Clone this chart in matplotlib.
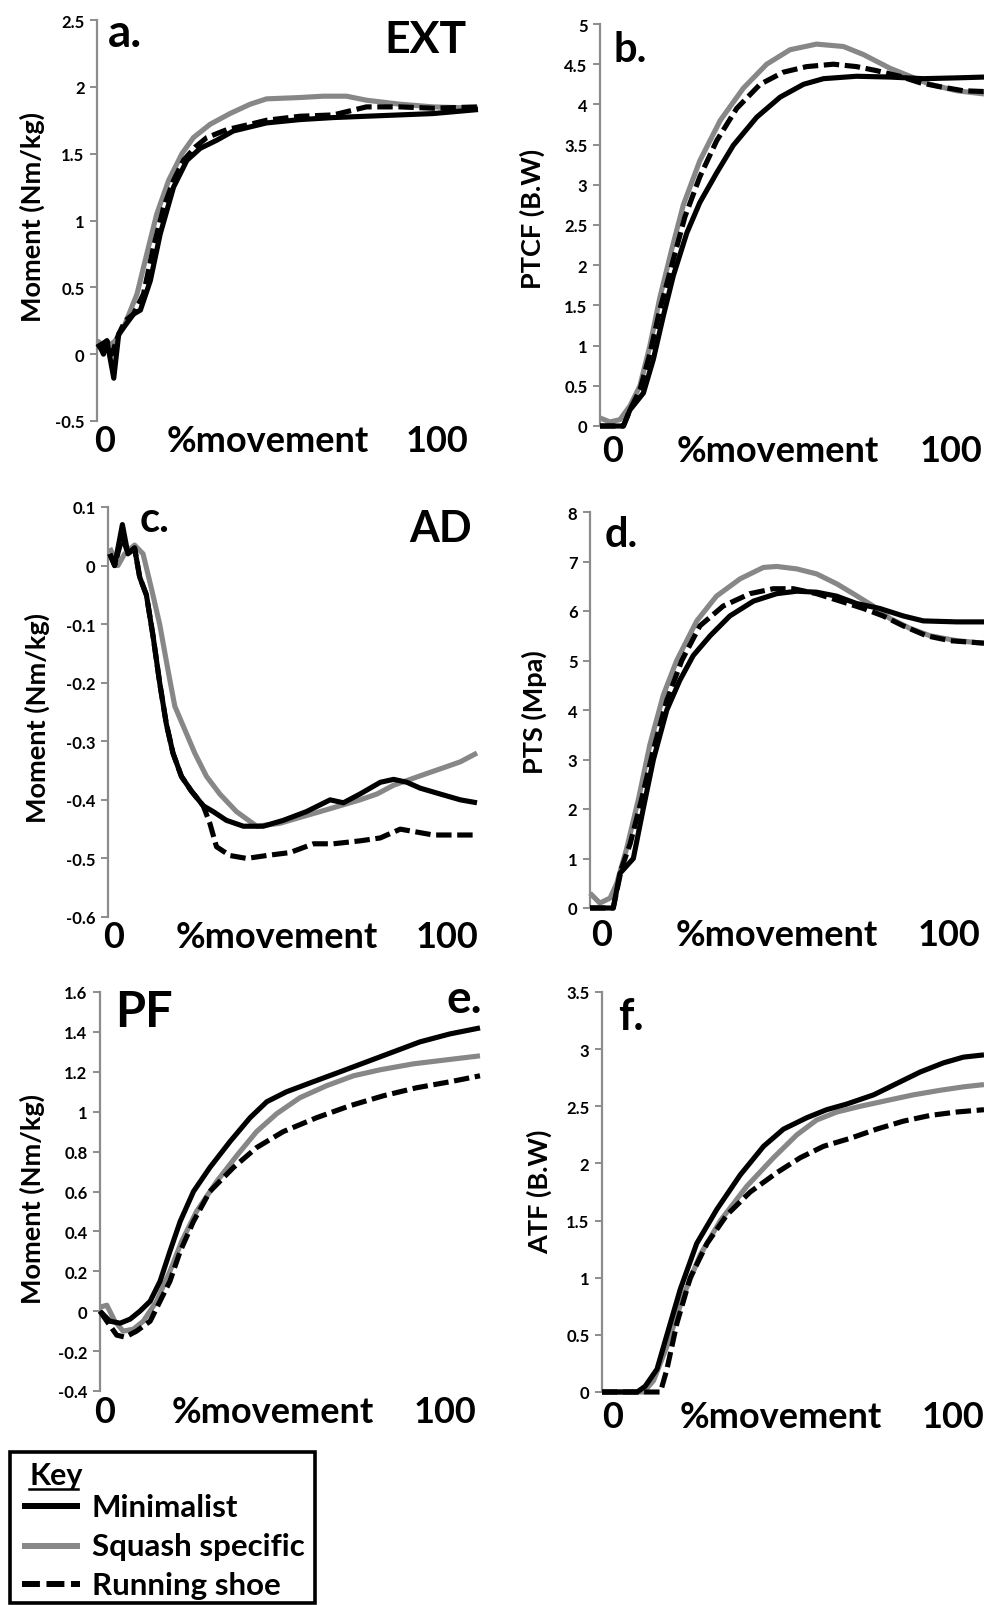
import numpy as np
import matplotlib
matplotlib.use('Agg')
import matplotlib.pyplot as plt
from matplotlib.lines import Line2D
from matplotlib.patches import Rectangle

W, H = 984, 1606
plt.rcParams['font.family'] = ['Lato', 'DejaVu Sans']
plt.rcParams['font.weight'] = 'bold'

series_names = ['Minimalist', 'Squash specific', 'Running shoe']

# ---------------- Panel a (EXT moment) ----------------
a_min_x = [0.4, 1.7, 2.6, 4.4, 5.7, 7.0, 9.6, 11.4, 14.0, 16.6, 20.1, 23.6, 27.1, 31.4, 35.8, 44.5, 53.3, 62.0, 70.7, 79.5, 88.2, 100]
a_min_y = [0.08, 0.0, 0.1, -0.18, 0.15, 0.2, 0.3, 0.33, 0.55, 0.9, 1.25, 1.45, 1.54, 1.6, 1.67, 1.73, 1.755, 1.77, 1.78, 1.79, 1.8, 1.83]
a_sq_x = [0, 2.6, 4.8, 7.0, 10.5, 13.5, 15.7, 18.8, 22.3, 25.3, 29.7, 34.9, 40.2, 44.5, 53.3, 59.4, 65.5, 70.7, 79.5, 88.2, 100]
a_sq_y = [0.1, 0.05, 0.1, 0.2, 0.45, 0.8, 1.05, 1.3, 1.5, 1.62, 1.72, 1.8, 1.87, 1.91, 1.92, 1.93, 1.93, 1.9, 1.87, 1.85, 1.84]
a_run_x = [0, 2.6, 3.9, 5.7, 7.4, 9.6, 12.2, 14.8, 17.5, 20.1, 22.7, 25.8, 28.8, 34.1, 40.2, 44.5, 53.3, 62.0, 66.4, 70.7, 79.5, 88.2, 100]
a_run_y = [0.05, 0.1, 0.0, 0.15, 0.25, 0.3, 0.45, 0.8, 1.1, 1.3, 1.45, 1.55, 1.62, 1.68, 1.72, 1.75, 1.78, 1.79, 1.82, 1.85, 1.85, 1.84, 1.85]
a_ticks = [-0.5, 0, 0.5, 1, 1.5, 2, 2.5]
a_ticklabels = ['-0.5', '0', '0.5', '1', '1.5', '2', '2.5']

# ---------------- Panel b (PTCF) ----------------
b_min_x = [0, 6.1, 7.8, 11.3, 13.9, 16.5, 19.1, 22.6, 26.0, 30.4, 34.7, 40.8, 46.9, 53.0, 58.2, 66.8, 75.5, 84.2, 92.9, 100]
b_min_y = [0, 0, 0.2, 0.41, 0.83, 1.37, 1.87, 2.4, 2.78, 3.15, 3.49, 3.84, 4.09, 4.25, 4.32, 4.35, 4.34, 4.32, 4.33, 4.34]
b_sq_x = [0, 2.6, 5.2, 7.8, 10.4, 13.0, 15.6, 18.7, 21.7, 26.0, 31.3, 37.3, 43.4, 49.5, 56.4, 63.4, 68.6, 75.5, 80.7, 85.9, 92.9, 100]
b_sq_y = [0.1, 0.05, 0.08, 0.25, 0.5, 1.0, 1.6, 2.2, 2.75, 3.3, 3.8, 4.2, 4.5, 4.68, 4.75, 4.72, 4.62, 4.45, 4.35, 4.25, 4.17, 4.13]
b_run_x = [0, 6.1, 7.8, 10.4, 13.0, 15.6, 18.7, 22.1, 26.0, 30.4, 35.6, 41.7, 47.7, 53.8, 60.8, 66.8, 72.0, 78.1, 83.3, 88.5, 94.6, 100]
b_run_y = [0, 0, 0.2, 0.45, 0.9, 1.45, 2.0, 2.6, 3.1, 3.55, 3.95, 4.25, 4.4, 4.47, 4.5, 4.47, 4.42, 4.35, 4.27, 4.22, 4.17, 4.16]
b_ticks = [0, 0.5, 1, 1.5, 2, 2.5, 3, 3.5, 4, 4.5, 5]
b_ticklabels = ['0', '0.5', '1', '1.5', '2', '2.5', '3', '3.5', '4', '4.5', '5']

# ---------------- Panel c (AD moment) ----------------
c_min_x = [0.5, 1.8, 3.9, 5.4, 7.2, 8.6, 10.4, 12.2, 14.0, 15.8, 17.6, 19.9, 22.6, 25.8, 28.5, 32.1, 36.7, 42.1, 47.5, 53.8, 60.2, 63.8, 68.3, 73.8, 77.4, 81.0, 84.6, 90.0, 95.5, 100]
c_min_y = [0.02, 0.0, 0.07, 0.02, 0.03, -0.02, -0.05, -0.12, -0.2, -0.27, -0.32, -0.36, -0.385, -0.41, -0.42, -0.435, -0.445, -0.445, -0.435, -0.42, -0.40, -0.405, -0.39, -0.37, -0.365, -0.37, -0.38, -0.39, -0.40, -0.405]
c_sq_x = [0.5, 2.7, 4.5, 7.2, 9.5, 11.8, 14.0, 16.3, 18.1, 20.8, 23.5, 26.7, 30.3, 34.8, 40.3, 46.6, 52.0, 57.5, 62.9, 68.3, 72.9, 77.4, 81.9, 86.4, 91.0, 95.5, 100]
c_sq_y = [0.03, 0.0, 0.02, 0.035, 0.02, -0.04, -0.1, -0.18, -0.24, -0.28, -0.32, -0.36, -0.39, -0.42, -0.445, -0.44, -0.43, -0.42, -0.41, -0.40, -0.39, -0.375, -0.365, -0.355, -0.345, -0.335, -0.32]
c_run_x = [0.5, 1.8, 3.9, 5.4, 7.2, 8.6, 10.4, 12.2, 14.0, 15.8, 17.6, 19.9, 22.6, 25.8, 27.6, 29.4, 33.0, 37.6, 43.0, 49.3, 55.7, 61.1, 68.3, 73.8, 79.2, 83.7, 88.2, 100]
c_run_y = [0.02, 0.0, 0.05, 0.02, 0.03, -0.02, -0.05, -0.12, -0.2, -0.27, -0.32, -0.36, -0.385, -0.41, -0.44, -0.48, -0.495, -0.5, -0.495, -0.49, -0.475, -0.475, -0.47, -0.465, -0.45, -0.455, -0.46, -0.46]
c_ticks = [-0.6, -0.5, -0.4, -0.3, -0.2, -0.1, 0, 0.1]
c_ticklabels = ['-0.6', '-0.5', '-0.4', '-0.3', '-0.2', '-0.1', '0', '0.1']

# ---------------- Panel d (PTS) ----------------
d_min_x = [0, 5.9, 7.6, 11.0, 13.5, 16.1, 19.5, 22.8, 26.2, 30.5, 35.5, 41.5, 47.4, 52.5, 57.5, 62.6, 67.7, 73.6, 79.5, 84.6, 93.1, 100]
d_min_y = [0, 0, 0.7, 1.0, 2.0, 3.0, 4.0, 4.6, 5.1, 5.5, 5.9, 6.2, 6.35, 6.4, 6.38, 6.3, 6.15, 6.05, 5.9, 5.8, 5.78, 5.78]
d_sq_x = [0, 2.5, 5.1, 6.8, 9.3, 12.3, 15.2, 18.6, 22.0, 27.1, 32.1, 38.1, 44.0, 47.4, 52.5, 57.5, 62.6, 66.8, 71.9, 76.1, 81.2, 86.3, 93.1, 100]
d_sq_y = [0.3, 0.1, 0.2, 0.5, 1.2, 2.2, 3.3, 4.3, 5.0, 5.8, 6.3, 6.65, 6.88, 6.9, 6.85, 6.75, 6.55, 6.35, 6.1, 5.85, 5.65, 5.5, 5.4, 5.35]
d_run_x = [0, 5.9, 8.0, 10.2, 13.1, 16.1, 19.5, 23.3, 27.9, 33.8, 40.6, 46.5, 51.6, 57.5, 63.5, 69.4, 74.4, 79.5, 85.4, 91.4, 100]
d_run_y = [0, 0, 0.8, 1.3, 2.2, 3.2, 4.2, 5.0, 5.7, 6.1, 6.35, 6.45, 6.45, 6.35, 6.2, 6.05, 5.9, 5.7, 5.5, 5.4, 5.35]
d_ticks = [0, 1, 2, 3, 4, 5, 6, 7, 8]
d_ticklabels = ['0', '1', '2', '3', '4', '5', '6', '7', '8']

# ---------------- Panel e (PF moment) ----------------
e_min_x = [0, 2.6, 5.3, 7.9, 10.5, 13.2, 15.8, 18.4, 21.1, 24.6, 28.9, 34.2, 39.5, 43.9, 49.1, 56.1, 63.2, 70.2, 77.2, 84.2, 92.1, 100]
e_min_y = [0, -0.05, -0.06, -0.04, 0.0, 0.05, 0.15, 0.3, 0.45, 0.6, 0.72, 0.85, 0.97, 1.05, 1.1, 1.15, 1.2, 1.25, 1.3, 1.35, 1.39, 1.42]
e_sq_x = [0, 1.8, 3.9, 6.1, 8.8, 11.4, 14.9, 18.4, 21.5, 25.4, 30.7, 36.0, 41.2, 46.5, 52.6, 59.6, 66.7, 73.7, 82.5, 91.2, 100]
e_sq_y = [0.02, 0.03, -0.05, -0.1, -0.09, -0.05, 0.05, 0.2, 0.35, 0.5, 0.65, 0.78, 0.9, 0.99, 1.07, 1.13, 1.18, 1.21, 1.24, 1.26, 1.28]
e_run_x = [0, 1.8, 4.4, 6.6, 9.6, 13.2, 15.8, 18.4, 21.1, 24.6, 28.9, 35.1, 41.2, 48.2, 57.0, 65.8, 74.6, 83.3, 92.1, 100]
e_run_y = [0, -0.05, -0.12, -0.13, -0.1, -0.05, 0.05, 0.15, 0.3, 0.45, 0.6, 0.72, 0.82, 0.9, 0.97, 1.03, 1.08, 1.12, 1.15, 1.18]
e_ticks = [-0.4, -0.2, 0, 0.2, 0.4, 0.6, 0.8, 1, 1.2, 1.4, 1.6]
e_ticklabels = ['-0.4', '-0.2', '0', '0.2', '0.4', '0.6', '0.8', '1', '1.2', '1.4', '1.6']

# ---------------- Panel f (ATF) ----------------
f_min_x = [0, 9.2, 11.3, 14.4, 17.0, 20.5, 24.8, 30.1, 36.2, 42.3, 47.5, 53.6, 58.8, 64.1, 71.1, 77.2, 83.3, 89.4, 94.6, 100]
f_min_y = [0, 0, 0.05, 0.2, 0.5, 0.9, 1.3, 1.6, 1.9, 2.15, 2.3, 2.4, 2.47, 2.52, 2.6, 2.7, 2.8, 2.88, 2.93, 2.95]
f_sq_x = [0, 10.9, 13.5, 17.0, 21.4, 25.7, 31.0, 37.9, 44.9, 51.0, 56.2, 61.5, 67.6, 74.5, 81.5, 88.5, 94.6, 100]
f_sq_y = [0, 0, 0.1, 0.4, 0.85, 1.2, 1.5, 1.8, 2.05, 2.25, 2.38, 2.45, 2.5, 2.55, 2.6, 2.64, 2.67, 2.69]
f_run_x = [0, 15.3, 17.0, 19.6, 23.1, 27.5, 32.7, 38.8, 45.8, 51.9, 58.0, 65.0, 71.9, 78.9, 85.9, 92.9, 100]
f_run_y = [0, 0, 0.2, 0.6, 1.0, 1.3, 1.55, 1.75, 1.92, 2.05, 2.15, 2.22, 2.3, 2.37, 2.42, 2.45, 2.47]
f_ticks = [0, 0.5, 1, 1.5, 2, 2.5, 3, 3.5]
f_ticklabels = ['0', '0.5', '1', '1.5', '2', '2.5', '3', '3.5']

ylabels = ['Moment (Nm/kg)', 'PTCF (B.W)', 'Moment (Nm/kg)', 'PTS (Mpa)', 'Moment (Nm/kg)', 'ATF (B.W)']
xlabel_txt = '%movement'
x_start_txt, x_end_txt = '0', '100'
key_title = 'Key'

BLACK = '#000000'
GREY = '#878787'
SPINE = '#8c8c8c'
LW = 3.7
FAM = ['Lato', 'DejaVu Sans']

fig = plt.figure(figsize=(W / 100, H / 100), dpi=100)


def fx(x):
    return x / W


def fy(y):
    return 1 - y / H


def add_ax(left, right, top, bottom):
    return fig.add_axes([left / W, 1 - bottom / H, (right - left) / W, (bottom - top) / H])


STYLES = [dict(color=BLACK, lw=LW, solid_joinstyle='round', solid_capstyle='butt'),
          dict(color=GREY, lw=LW, solid_joinstyle='round', solid_capstyle='butt'),
          dict(color=BLACK, lw=LW, dashes=(3, 1.1))]


def draw(ax, mx, my, sx, sy, rx, ry, ylim, ticks, ticklabels):
    ax.plot(sx, sy, clip_on=False, zorder=2, **STYLES[1])
    ax.plot(mx, my, clip_on=False, zorder=3, **STYLES[0])
    ax.plot(rx, ry, clip_on=False, zorder=4, **STYLES[2])
    ax.set_xlim(0, 100)
    ax.set_ylim(*ylim)
    ax.set_yticks(ticks)
    ax.set_yticklabels(ticklabels)
    ax.set_xticks([])
    for s in ['top', 'right', 'bottom']:
        ax.spines[s].set_visible(False)
    ax.spines['left'].set_color(SPINE)
    ax.spines['left'].set_linewidth(1.6)
    ax.tick_params(axis='y', length=5, width=1.4, color=SPINE, pad=4, labelsize=12)
    for t in ax.get_yticklabels():
        t.set_fontweight('bold')
    ax.patch.set_alpha(0)


panels = [
    # left, right, top, bottom (pixels)
    dict(box=(97, 478, 21, 422), data=(a_min_x, a_min_y, a_sq_x, a_sq_y, a_run_x, a_run_y), ylim=(-0.5, 2.5), ticks=a_ticks, tl=a_ticklabels),
    dict(box=(600, 984, 25, 427), data=(b_min_x, b_min_y, b_sq_x, b_sq_y, b_run_x, b_run_y), ylim=(0, 5), ticks=b_ticks, tl=b_ticklabels),
    dict(box=(108, 477, 508, 918), data=(c_min_x, c_min_y, c_sq_x, c_sq_y, c_run_x, c_run_y), ylim=(-0.6, 0.1), ticks=c_ticks, tl=c_ticklabels),
    dict(box=(590, 984, 513, 909), data=(d_min_x, d_min_y, d_sq_x, d_sq_y, d_run_x, d_run_y), ylim=(0, 8), ticks=d_ticks, tl=d_ticklabels),
    dict(box=(100, 480, 993, 1392), data=(e_min_x, e_min_y, e_sq_x, e_sq_y, e_run_x, e_run_y), ylim=(-0.4, 1.6), ticks=e_ticks, tl=e_ticklabels),
    dict(box=(602, 984, 993, 1393), data=(f_min_x, f_min_y, f_sq_x, f_sq_y, f_run_x, f_run_y), ylim=(0, 3.5), ticks=f_ticks, tl=f_ticklabels),
]

for p in panels:
    ax = add_ax(*p['box'])
    draw(ax, *p['data'], p['ylim'], p['ticks'], p['tl'])

# y-axis labels (pixel centres)
ylab_pos = [(32, 217), (532, 219), (37, 718), (534, 712), (32, 1199), (539, 1192)]
for txt, (x, y) in zip(ylabels, ylab_pos):
    fig.text(fx(x), fy(y), txt, rotation=90, ha='center', va='center', fontsize=19.5, fontweight='bold')

# x-axis annotation rows: (x of "0", x of "%movement", x of "100", y)
xrow = [(105, 268, 437, 442), (613, 778, 951, 452), (114, 277, 447, 938), (602, 777, 949, 936), (105, 273, 445, 1413), (613, 781, 953, 1418)]
for x0, xm, x1, y in xrow:
    fig.text(fx(x0), fy(y), x_start_txt, ha='center', va='center', fontsize=26, fontweight='bold')
    fig.text(fx(xm), fy(y), xlabel_txt, ha='center', va='center', fontsize=26, fontweight='bold')
    fig.text(fx(x1), fy(y), x_end_txt, ha='center', va='center', fontsize=26, fontweight='bold')

# panel letters / titles
fig.text(fx(108), fy(47), 'a.', ha='left', va='baseline', fontsize=33, fontweight='bold')
fig.text(fx(466), fy(53), 'EXT', ha='right', va='baseline', fontsize=32, fontweight='bold')
fig.text(fx(613), fy(62), 'b.', ha='left', va='baseline', fontsize=30, fontweight='bold')
fig.text(fx(140), fy(532), 'c.', ha='left', va='baseline', fontsize=30, fontweight='bold')
fig.text(fx(472), fy(542), 'AD', ha='right', va='baseline', fontsize=31, fontweight='bold')
fig.text(fx(605), fy(547), 'd.', ha='left', va='baseline', fontsize=30, fontweight='bold')
fig.text(fx(115), fy(1027), 'PF', ha='left', va='baseline', fontsize=35, fontweight='bold')
fig.text(fx(482), fy(1013), 'e.', ha='right', va='baseline', fontsize=33, fontweight='bold')
fig.text(fx(618), fy(1030), 'f.', ha='left', va='baseline', fontsize=31, fontweight='bold')

# ---------------- key box ----------------
fig.add_artist(Rectangle((fx(10), fy(1604)), 305 / W, 151 / H, fill=False, edgecolor='black',
                         linewidth=2.6, transform=fig.transFigure, zorder=15))
fig.text(fx(29), fy(1485), key_title, ha='left', va='baseline', fontsize=22, fontweight='bold')
fig.add_artist(Line2D([fx(29), fx(78)], [fy(1490), fy(1490)], color='black', lw=1.8, transform=fig.transFigure))
key_rows = [(1507, 1517), (1547, 1556), (1585, 1595)]   # (line y, text baseline) in pixels
for name, style, (ly, by) in zip(series_names, STYLES, key_rows):
    st = dict(style)
    st['lw'] = 4.3
    fig.add_artist(Line2D([fx(22), fx(80)], [fy(ly), fy(ly)], transform=fig.transFigure, **st))
    fig.text(fx(92), fy(by), name, ha='left', va='baseline', fontsize=22.5, fontweight='bold')

fig.savefig('out.png', dpi=100)
